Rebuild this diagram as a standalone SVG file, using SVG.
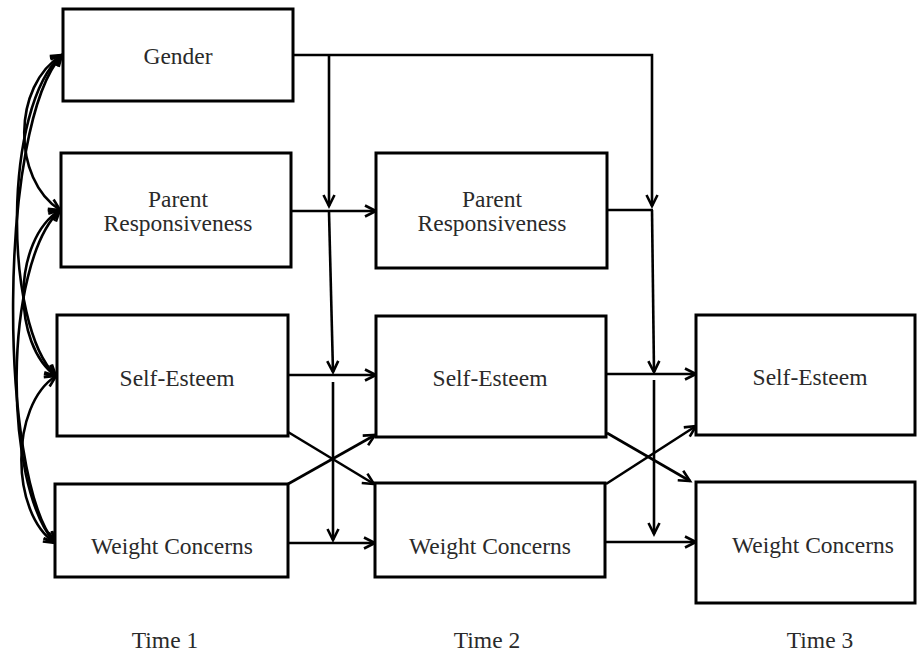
<svg xmlns="http://www.w3.org/2000/svg" width="917" height="656" viewBox="0 0 917 656">
<defs>
<marker id="ah" markerUnits="userSpaceOnUse" markerWidth="16" markerHeight="16" viewBox="0 0 16 16" refX="13" refY="8" orient="auto-start-reverse">
<path d="M2,2.5 L13,8 L2,13.5" fill="none" stroke="#000" stroke-width="2.6" stroke-linejoin="miter"/>
</marker>
</defs>
<style>
.box{fill:#fff;stroke:#000;stroke-width:3}
.lbl{font-family:"Liberation Serif","Times New Roman",serif;font-size:23.5px;fill:#2a2a2a;text-anchor:middle}
.c{fill:none;stroke:#000;stroke-width:2.6}
.a{marker-end:url(#ah)}
.b{marker-start:url(#ah);marker-end:url(#ah)}
</style>
<rect width="917" height="656" fill="#fff"/>
<g id="connectors">
<path class="c b" d="M62,55 C12,85 12,180 60,210"/>
<path class="c b" d="M62,55 C3,105 3,325 56,376"/>
<path class="c b" d="M62,55 C-2,125 -2,475 55,543"/>
<path class="c b" d="M60,210 C12,240 12,345 56,376"/>
<path class="c b" d="M60,210 C3,265 3,485 55,543"/>
<path class="c b" d="M56,376 C10,405 10,513 55,543"/>
<path class="c a" d="M293,55 H652 V206"/>
<path class="c a" d="M329,55 V206"/>
<path class="c a" d="M291,211 H376"/>
<path class="c a" d="M329,212 L333,372"/>
<path class="c a" d="M288,375 H376"/>
<path class="c a" d="M333,382 V540"/>
<path class="c a" d="M288,543 H375"/>
<path class="c" d="M607,210 H653"/>
<path class="c a" d="M652,210 L654,372"/>
<path class="c a" d="M606,374 H696"/>
<path class="c a" d="M654,380 V534"/>
<path class="c a" d="M605,542 H696"/>
<path class="c a" d="M288,432 L374,484"/>
<path class="c a" d="M288,484 L375,435"/>
<path class="c a" d="M607,433 L690,481"/>
<path class="c a" d="M606,484 L696,426"/>
</g>
<g id="gender"><rect class="box" x="63" y="9" width="230" height="92"/><text class="lbl" x="178" y="64">Gender</text></g>
<g id="pr1"><rect class="box" x="61" y="153" width="230" height="114"/><text class="lbl" x="178" y="207">Parent</text><text class="lbl" x="178" y="231">Responsiveness</text></g>
<g id="se1"><rect class="box" x="57" y="315" width="231" height="121"/><text class="lbl" x="177" y="386">Self-Esteem</text></g>
<g id="wc1"><rect class="box" x="55" y="484" width="233" height="93"/><text class="lbl" x="172" y="554">Weight Concerns</text></g>
<g id="pr2"><rect class="box" x="376" y="153" width="231" height="115"/><text class="lbl" x="492" y="207">Parent</text><text class="lbl" x="492" y="231">Responsiveness</text></g>
<g id="se2"><rect class="box" x="376" y="316" width="230" height="121"/><text class="lbl" x="490" y="386">Self-Esteem</text></g>
<g id="wc2"><rect class="box" x="375" y="483" width="230" height="94"/><text class="lbl" x="490" y="554">Weight Concerns</text></g>
<g id="se3"><rect class="box" x="696" y="315" width="219" height="120"/><text class="lbl" x="810" y="385">Self-Esteem</text></g>
<g id="wc3"><rect class="box" x="696" y="482" width="219" height="121"/><text class="lbl" x="813" y="553">Weight Concerns</text></g>
<g id="time1"><text class="lbl" x="165" y="648">Time 1</text></g>
<g id="time2"><text class="lbl" x="487" y="648">Time 2</text></g>
<g id="time3"><text class="lbl" x="820" y="648">Time 3</text></g>
</svg>
